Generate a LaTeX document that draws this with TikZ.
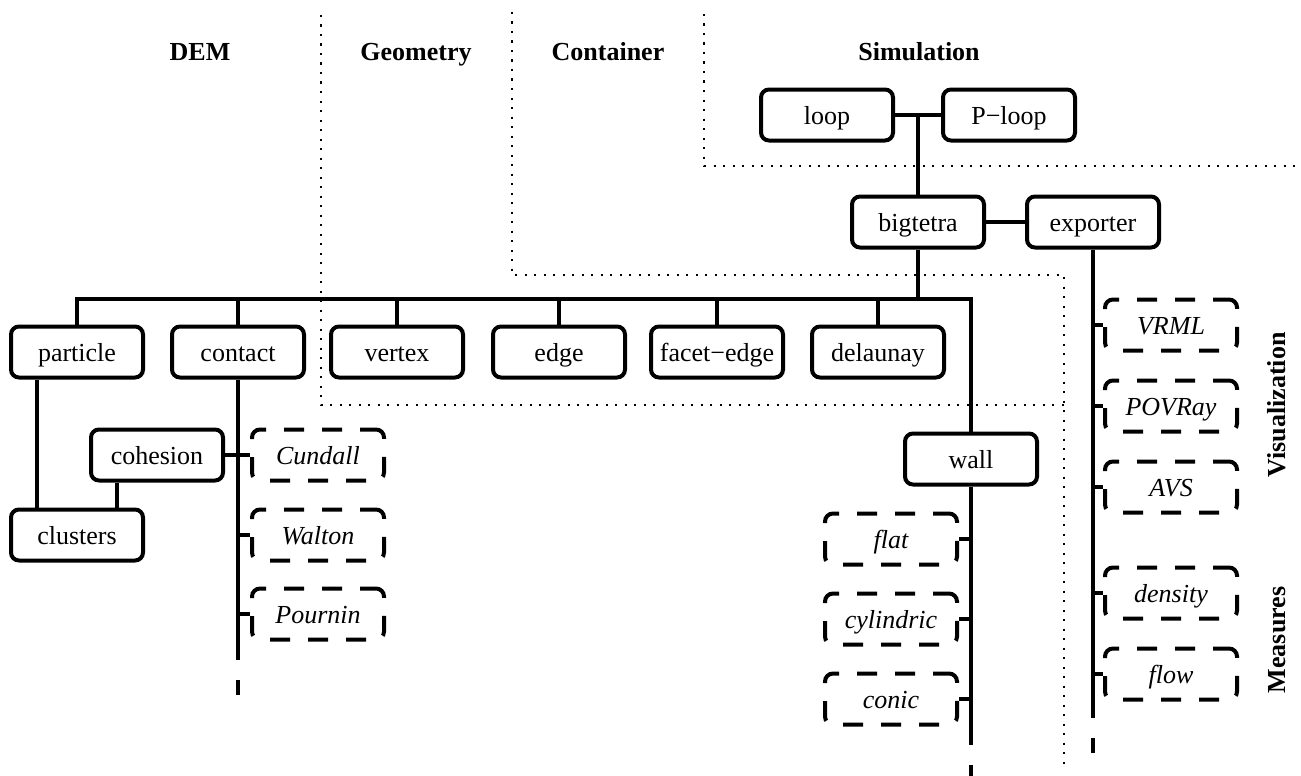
\documentclass[tikz,border=0pt]{standalone}
\usepackage{fontspec}
\setmainfont{Liberation Serif}
\begin{document}
\begin{tikzpicture}[x=1pt,y=-1pt,
  box/.style={draw, line width=4pt, rounded corners=8pt, minimum width=132pt, minimum height=51pt, inner sep=0pt, text height=20pt, text depth=1pt, font=\fontsize{26}{30}\selectfont},
  dbox/.style={box, dash pattern=on 20pt off 18pt, dash phase=4pt, font=\fontsize{26}{30}\selectfont\itshape},
  head/.style={font=\fontsize{26}{30}\selectfont\bfseries, anchor=base, inner sep=0pt},
  link/.style={line width=4pt},
  region/.style={line width=2.2pt, dash pattern=on 2.2pt off 7.3pt},
]
\useasboundingbox (0,0) rectangle (1301,776);

% region boundaries
\draw[region] (321,15) -- (321,405) -- (1064,405);
\draw[region] (512,12) -- (512,275) -- (1064,275) -- (1064,770);
\draw[region] (704,14) -- (704,166) -- (1301,166);

% headers
\node[head] (hdem) at (200,60) {DEM};
\node[head] (hgeo) at (416,60) {Geometry};
\node[head] (hcon) at (608,60) {Container};
\node[head] (hsim) at (919,60) {Simulation};
\node[head, rotate=90] (hvis) at (1285,405) {Visualization};
\node[head, rotate=90] (hmea) at (1285,640) {Measures};

% nodes
\node[box] (loop) at (827,115) {loop};
\node[box] (ploop) at (1009,115) {P−loop};
\node[box] (bigtetra) at (918,222) {bigtetra};
\node[box] (exporter) at (1093,222) {exporter};

\node[box] (particle) at (77,352) {particle};
\node[box] (contact) at (238,352) {contact};
\node[box] (vertex) at (397,352) {vertex};
\node[box] (edge) at (559,352) {edge};
\node[box] (facetedge) at (717,352) {facet−edge};
\node[box] (delaunay) at (878,352) {delaunay};

\node[box] (cohesion) at (157,455) {cohesion};
\node[box] (clusters) at (77,535) {clusters};
\node[dbox] (cundall) at (318,455) {Cundall};
\node[dbox] (walton) at (318,535) {Walton};
\node[dbox] (pournin) at (318,614) {Pournin};

\node[box] (wall) at (971,459) {wall};
\node[dbox] (flat) at (891,539) {flat};
\node[dbox] (cylindric) at (891,619) {cylindric};
\node[dbox] (conic) at (891,699) {conic};

\node[dbox] (vrml) at (1171,325) {VRML};
\node[dbox] (povray) at (1171,406) {POVRay};
\node[dbox] (avs) at (1171,487) {AVS};
\node[dbox] (density) at (1171,593) {density};
\node[dbox] (flow) at (1171,674) {flow};

% connectors
\coordinate (bus) at (0,299);
\draw[link] (loop.east) -- (ploop.west);
\draw[link] (bigtetra.north) -- (bigtetra.north |- loop.east);
\draw[link] (bigtetra.east) -- (exporter.west);
\draw[link] (bigtetra.south) -- (bigtetra.south |- bus);
\draw[link] (particle.north) -- (particle.north |- bus) -- (bus -| wall.north) -- (wall.north);
\draw[link] (contact.north) -- (contact.north |- bus);
\draw[link] (vertex.north) -- (vertex.north |- bus);
\draw[link] (edge.north) -- (edge.north |- bus);
\draw[link] (facetedge.north) -- (facetedge.north |- bus);
\draw[link] (delaunay.north) -- (delaunay.north |- bus);

\draw[link] ([xshift=-40pt]particle.south) -- ([xshift=-40pt]clusters.north);
\draw[link] ([xshift=-40pt]cohesion.south) -- ([xshift=-40pt]cohesion.south |- clusters.north);
\draw[link] (cohesion.east) -- (cundall.west);

\draw[link] (contact.south) -- (contact.south |- 0,660);
\draw[link] (contact.south |- 0,680) -- (contact.south |- 0,695);
\draw[link] (walton.west) -- (walton.west -| contact.south);
\draw[link] (pournin.west) -- (pournin.west -| contact.south);

\draw[link] (wall.south) -- (wall.south |- 0,745);
\draw[link] (wall.south |- 0,765) -- (wall.south |- 0,776);
\draw[link] (flat.east) -- (flat.east -| wall.south);
\draw[link] (cylindric.east) -- (cylindric.east -| wall.south);
\draw[link] (conic.east) -- (conic.east -| wall.south);

\draw[link] (exporter.south) -- (exporter.south |- 0,718);
\draw[link] (exporter.south |- 0,738) -- (exporter.south |- 0,753);
\draw[link] (vrml.west) -- (vrml.west -| exporter.south);
\draw[link] (povray.west) -- (povray.west -| exporter.south);
\draw[link] (avs.west) -- (avs.west -| exporter.south);
\draw[link] (density.west) -- (density.west -| exporter.south);
\draw[link] (flow.west) -- (flow.west -| exporter.south);
\end{tikzpicture}
\end{document}
